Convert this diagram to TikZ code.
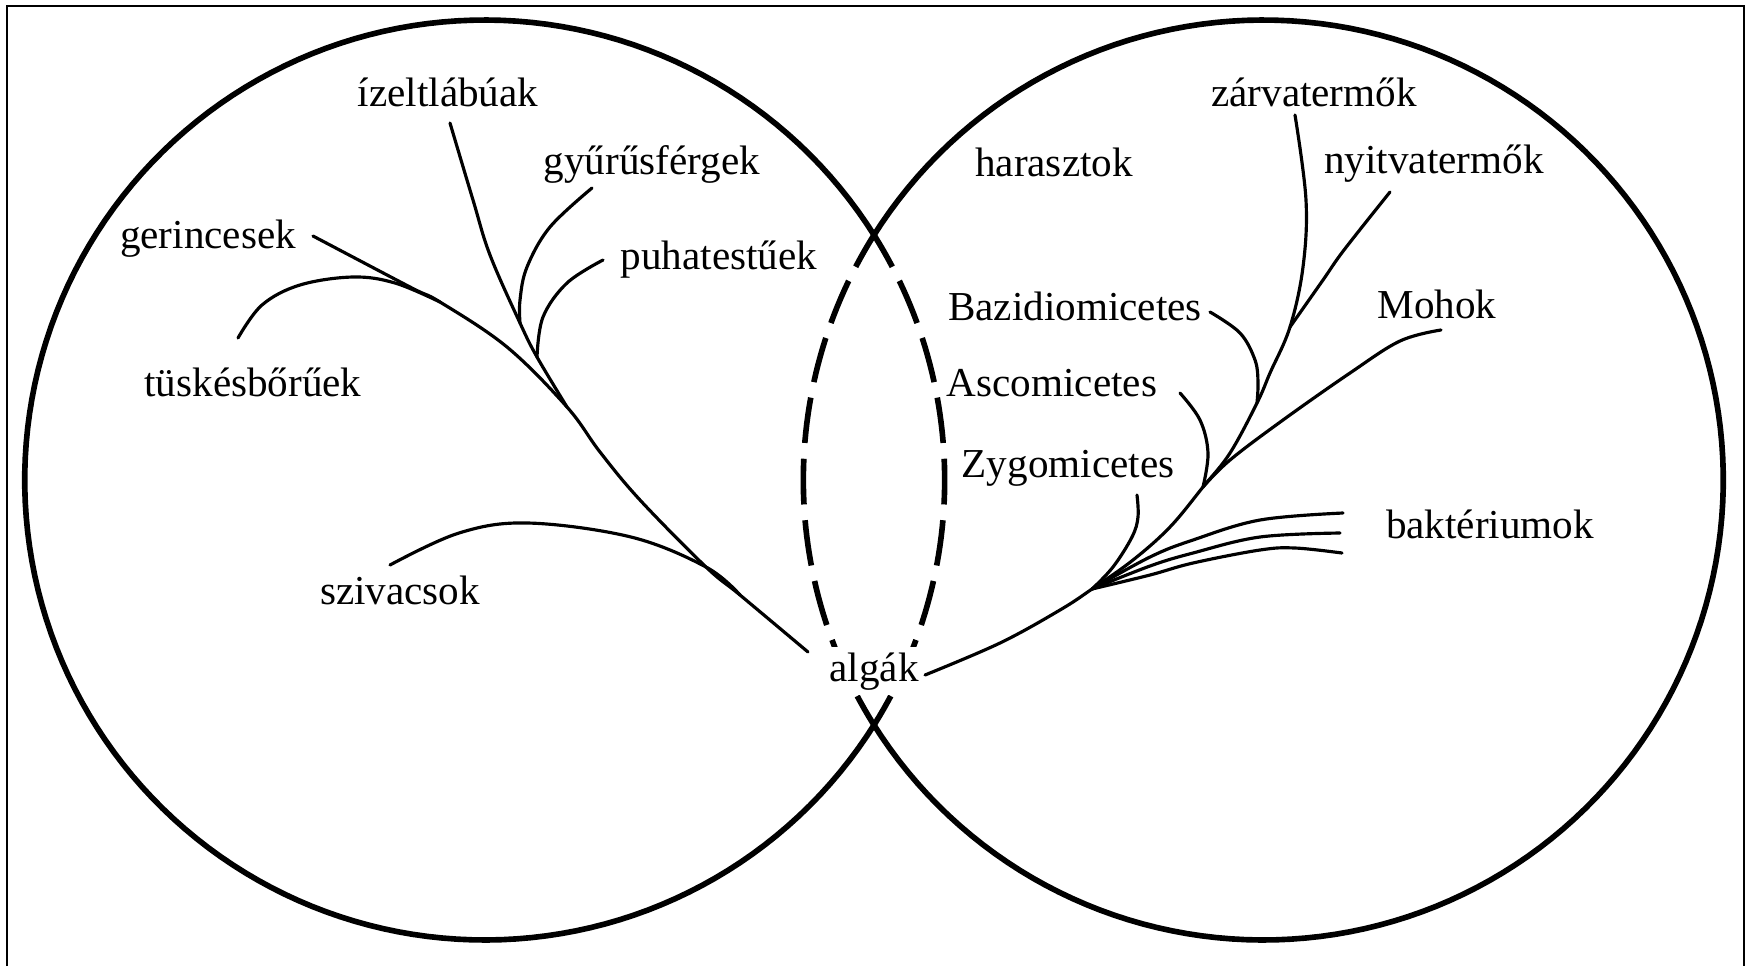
\documentclass[tikz,border=0pt]{standalone}
\usepackage{fontspec}
\setmainfont{Liberation Serif}
\begin{document}
\begin{tikzpicture}[x=0.01cm,y=-0.01cm,
  lbl/.style={font=\fontsize{11.7}{14}\selectfont, anchor=base, inner sep=0pt},
  ring/.style={line width=1.6pt},
  lens/.style={line width=1.6pt, dash pattern=on 13pt off 4.5pt, dash phase=3pt},
  branch/.style={line width=0.9pt, line cap=round, line join=round},
  frameline/.style={line width=0.65pt}]
\useasboundingbox (0,0) rectangle (1751,966);
\draw[frameline] (7,966) -- (7,6) -- (1744,6) -- (1744,966);

% circles
\draw[ring] plot[domain=32:328, samples=160] ({484.7+460*cos(\x)},{480-460*sin(\x)});
\draw[ring] plot[domain=-148:148, samples=160] ({1263.3+460*cos(\x)},{480+460*sin(\x)});
\draw[lens] plot[domain=-32:32, samples=60] ({484.7+460*cos(\x)},{480+460*sin(\x)});
\draw[lens] plot[domain=-32:32, samples=60] ({1263.3-460*cos(\x)},{480+460*sin(\x)});

% left tree coordinates
\coordinate (Lroot) at (808,652);
\coordinate (Lsz) at (740,595);
\coordinate (Ljoin1) at (567,407);
\coordinate (Ljoin2) at (537,357);
\coordinate (Ljoin3) at (520,323);
\coordinate (Ltus) at (440,302);
\coordinate (gerE) at (313,236);
\coordinate (tusE) at (238,338);
\coordinate (izE) at (450,123);
\coordinate (gyE) at (592,188);
\coordinate (puE) at (603,260);
\coordinate (szE) at (390,565);

\draw[branch] plot[smooth, tension=0.6] coordinates {(Lroot) (Lsz) (706,567) (640,500) (600,452) (Ljoin1) (507,347) (Ltus) (410,287) (gerE)};
\draw[branch] plot[smooth, tension=0.6] coordinates {(tusE) (262,305) (300,285) (353,277) (395,283) (Ltus)};
\draw[branch] plot[smooth, tension=0.6] coordinates {(szE) (459,533) (528,523) (631,537) (706,567) (Lsz)};
\draw[branch] plot[smooth, tension=0.6] coordinates {(izE) (473,200) (490,255) (Ljoin3) (Ljoin2) (Ljoin1)};
\draw[branch] plot[smooth, tension=0.6] coordinates {(gyE) (550,227) (527,267) (520,300) (Ljoin3)};
\draw[branch] plot[smooth, tension=0.6] coordinates {(puE) (567,283) (543,317) (Ljoin2)};

% right tree coordinates
\coordinate (Rroot) at (925,675);
\coordinate (hub) at (1092,589);
\coordinate (Rasc) at (1203,487);
\coordinate (Rbaz) at (1257,403);
\coordinate (Rnyi) at (1290,327);
\coordinate (zarE) at (1295,115);
\coordinate (nyiE) at (1390,192);
\coordinate (bazE) at (1210,312);
\coordinate (mohE) at (1441,330);
\coordinate (ascE) at (1180,393);
\coordinate (zygE) at (1137,495);
\coordinate (bakA) at (1343,513);
\coordinate (bakB) at (1340,533);
\coordinate (bakC) at (1342,553);

\draw[branch] plot[smooth, tension=0.6] coordinates {(Rroot) (1000,643) (1060,610) (hub) (1133,560) (1170,527) (Rasc) (1230,453) (Rbaz) (1270,373) (Rnyi) (1303,267) (1306,200) (zarE)};
\draw[branch] plot[smooth, tension=0.6] coordinates {(nyiE) (1344,250) (1323,280) (Rnyi)};
\draw[branch] plot[smooth, tension=0.6] coordinates {(bazE) (1240,333) (1255,360) (1258,382) (Rbaz)};
\draw[branch] plot[smooth, tension=0.6] coordinates {(mohE) (1400,341) (1350,373) (1283,420) (1230,460) (Rasc)};
\draw[branch] plot[smooth, tension=0.6] coordinates {(ascE) (1200,420) (1208,453) (Rasc)};
\draw[branch] plot[smooth, tension=0.6] coordinates {(zygE) (1138,517) (1132,537) (1113,567) (hub)};
\draw[branch] plot[smooth, tension=0.6] coordinates {(hub) (1150,557) (1193,540) (1260,520) (bakA)};
\draw[branch] plot[smooth, tension=0.6] coordinates {(hub) (1150,566) (1193,553) (1260,537) (bakB)};
\draw[branch] plot[smooth, tension=0.6] coordinates {(hub) (1150,575) (1193,563) (1260,550) (1295,548) (bakC)};

% labels
\node[lbl] (izelt) at (448,106) {ízeltlábúak};
\node[lbl] (gyuru) at (652,174) {gyűrűsférgek};
\node[lbl] (gerinc) at (208,248) {gerincesek};
\node[lbl] (puha) at (719,269) {puhatestűek};
\node[lbl] (tuskes) at (253,396) {tüskésbőrűek};
\node[lbl] (sziv) at (400,604) {szivacsok};
\node[lbl, fill=white, inner xsep=1pt, inner ysep=1.5pt] (alga) at (874,681) {algák};
\node[lbl] (haraszt) at (1054,176) {harasztok};
\node[lbl] (zarva) at (1314,106) {zárvatermők};
\node[lbl] (nyitva) at (1434,173) {nyitvatermők};
\node[lbl] (bazid) at (1075,320) {Bazidiomicetes};
\node[lbl] (mohok) at (1437,318) {Mohok};
\node[lbl] (ascom) at (1052,396) {Ascomicetes};
\node[lbl] (zygo) at (1068,477) {Zygomicetes};
\node[lbl] (bakt) at (1490,538) {baktériumok};
\end{tikzpicture}
\end{document}
